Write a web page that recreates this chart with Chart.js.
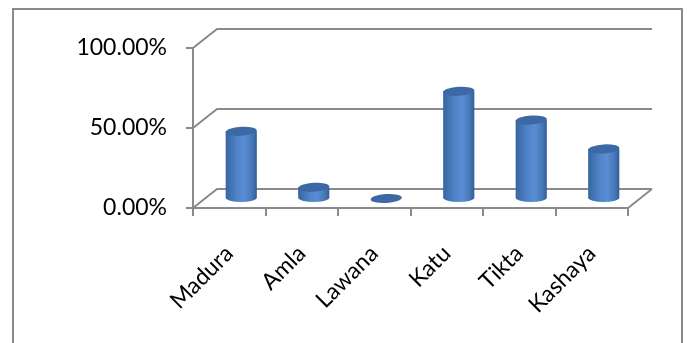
<!DOCTYPE html>
<html>
<head>
<meta charset="utf-8">
<script src="https://cdn.jsdelivr.net/npm/chart.js@4/dist/chart.umd.min.js"></script>
<style>
  html, body { margin: 0; padding: 0; background: #fff; }
  canvas { display: block; }
</style>
</head>
<body>
<canvas id="chart" width="687" height="343"></canvas>
<script>
var categories = ['Madura', 'Amla', 'Lawana', 'Katu', 'Tikta', 'Kashaya'];
var percentValues = [42, 7, 0, 67, 49, 31];
var yTicks = [0, 50, 100];

// fake 3d depth of the plot box
var DEPTH_X = 24, DEPTH_Y = -19;
var LINE = '#8a8a8a';

var framePlugin = {
    id: 'frame',
    beforeDraw: function(chart) {
        var c = chart.ctx;
        c.save();
        c.strokeStyle = LINE;
        c.lineWidth = 2;
        c.strokeRect(13, 9, 669, 345);
        c.restore();
    },
    beforeDatasetsDraw: function(chart) {
        var c = chart.ctx, a = chart.chartArea, y = chart.scales.y;
        c.save();
        c.strokeStyle = LINE;
        c.lineWidth = 2;
        c.beginPath();
        yTicks.forEach(function(t) {
            var py = y.getPixelForValue(t);
            c.moveTo(a.left, py);
            c.lineTo(a.left + DEPTH_X, py + DEPTH_Y);
            c.lineTo(a.right + DEPTH_X, py + DEPTH_Y);
        });
        c.moveTo(a.right, a.bottom);
        c.lineTo(a.right + DEPTH_X, a.bottom + DEPTH_Y);
        c.stroke();
        c.restore();
    }
};

var cylinderPlugin = {
    id: 'cylinders',
    afterDatasetsDraw: function(chart) {
        var c = chart.ctx;
        chart.getDatasetMeta(0).data.forEach(function(bar) {
            var p = bar.getProps(['x', 'y', 'base', 'width'], true);
            var cx = p.x + DEPTH_X / 2;
            var top = p.y + DEPTH_Y / 2;
            var bottom = p.base + DEPTH_Y / 2;
            var rx = p.width / 2, ry = 4.5;
            c.save();
            if (bottom - top > 0.5) {
                var g = c.createLinearGradient(cx - rx, 0, cx + rx, 0);
                g.addColorStop(0, '#36659f');
                g.addColorStop(0.35, '#4f82c6');
                g.addColorStop(0.6, '#5a8ed4');
                g.addColorStop(0.85, '#4677b8');
                g.addColorStop(1, '#325f98');
                c.beginPath();
                c.moveTo(cx - rx, top);
                c.lineTo(cx - rx, bottom);
                c.ellipse(cx, bottom, rx, ry, 0, Math.PI, 0, true);
                c.lineTo(cx + rx, top);
                c.closePath();
                c.fillStyle = g;
                c.fill();
            }
            c.beginPath();
            c.ellipse(cx, top, rx, ry, -0.06, 0, Math.PI * 2);
            c.fillStyle = '#3c69a5';
            c.fill();
            c.restore();
        });
    }
};

var ctx = document.getElementById('chart').getContext('2d');
var fontFamily = 'Lato, "Liberation Sans", sans-serif';

var myChart = new Chart(ctx, {
    type: 'bar',
    data: {
        labels: categories,
        datasets: [{
            data: percentValues,
            backgroundColor: 'rgba(0,0,0,0)',
            borderWidth: 0,
            barPercentage: 0.43,
            categoryPercentage: 1
        }]
    },
    options: {
        responsive: false,
        animation: false,
        layout: { padding: { left: 0, top: 48, right: 59, bottom: 0 } },
        plugins: {
            legend: { display: false },
            tooltip: { enabled: false }
        },
        scales: {
            x: {
                grid: { offset: true, drawOnChartArea: false, tickLength: 8, color: LINE, lineWidth: 2 },
                border: { display: true, color: LINE, width: 2 },
                ticks: {
                    color: '#000',
                    font: { family: fontFamily, size: 23 },
                    minRotation: 45,
                    maxRotation: 45,
                    padding: 24
                },
                afterFit: function(s) { s.height = 135; }
            },
            y: {
                min: 0,
                max: 100,
                afterBuildTicks: function(s) {
                    s.ticks = yTicks.map(function(v) { return { value: v }; });
                },
                ticks: {
                    color: '#000',
                    font: { family: fontFamily, size: 23 },
                    padding: 19,
                    callback: function(v) { return v.toFixed(2) + '%'; }
                },
                grid: { drawOnChartArea: false, tickLength: 7, color: LINE, lineWidth: 2 },
                border: { display: true, color: LINE, width: 2 },
                afterFit: function(s) { s.width = 193; }
            }
        }
    },
    plugins: [framePlugin, cylinderPlugin]
});
</script>
</body>
</html>
